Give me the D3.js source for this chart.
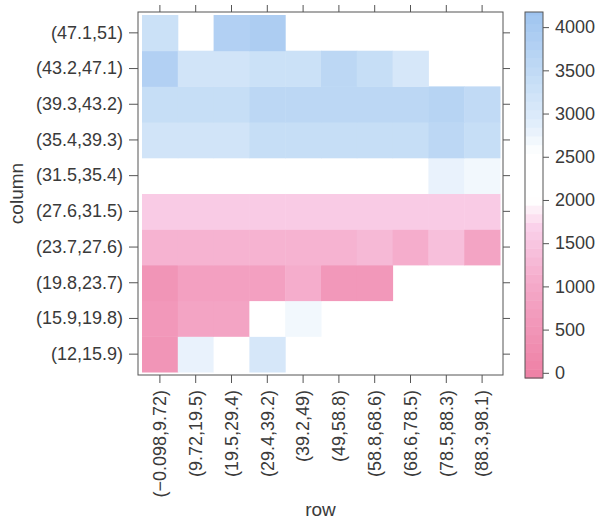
<!DOCTYPE html>
<html>
<head>
<meta charset="utf-8">
<script src="https://cdn.jsdelivr.net/npm/d3@7"></script>
<style>
  body { margin: 0; background: #fff; }
  text { font-family: "Liberation Sans", Arial, sans-serif; fill: #3a3a3a; }
</style>
</head>
<body>
<svg id="chart" width="600" height="521"></svg>
<script>
'use strict';

// x categories (row), left to right
var rowBins = ['(\u22120.098,9.72]', '(9.72,19.5]', '(19.5,29.4]', '(29.4,39.2]', '(39.2,49]',
  '(49,58.8]', '(58.8,68.6]', '(68.6,78.5]', '(78.5,88.3]', '(88.3,98.1]'];
// y categories (column), bottom to top
var columnBins = ['(12,15.9]', '(15.9,19.8]', '(19.8,23.7]', '(23.7,27.6]', '(27.6,31.5]',
  '(31.5,35.4]', '(35.4,39.3]', '(39.3,43.2]', '(43.2,47.1]', '(47.1,51]'];
var rowLabels = ['(\u22120.098,9.72)', '(9.72,19.5)', '(19.5,29.4)', '(29.4,39.2)', '(39.2,49)',
  '(49,58.8)', '(58.8,68.6)', '(68.6,78.5)', '(78.5,88.3)', '(88.3,98.1)'];
var columnLabels = ['(12,15.9)', '(15.9,19.8)', '(19.8,23.7)', '(23.7,27.6)', '(27.6,31.5)',
  '(31.5,35.4)', '(35.4,39.3)', '(39.3,43.2)', '(43.2,47.1)', '(47.1,51)'];

// cell values, one array per column bin (bottom to top), one value per row bin
var v12 = [450, 2750, 2350, 3100, null, null, null, null, null, null];
var v15 = [550, 850, 850, 2300, 2650, null, null, null, null, null];
var v19 = [500, 800, 800, 800, 1100, 600, 600, null, null, null];
var v23 = [1150, 1150, 1150, 1200, 1150, 1150, 1300, 1100, 1350, 900];
var v27 = [1600, 1600, 1600, 1600, 1600, 1600, 1600, 1600, 1600, 1600];
var v31 = [2300, 2300, 2300, 2300, 2300, 2300, 2300, 2300, 2750, 2700];
var v35 = [3150, 3150, 3150, 3350, 3350, 3350, 3350, 3350, 3550, 3350];
var v39 = [3350, 3350, 3350, 3550, 3550, 3550, 3550, 3550, 3650, 3500];
var v43 = [3800, 3150, 3150, 3250, 3250, 3550, 3400, 3100, null, null];
var v47 = [3300, null, 3800, 3900, null, null, null, null, null, null];
var values = [v12, v15, v19, v23, v27, v31, v35, v39, v43, v47];

var keyTicks = [0, 500, 1000, 1500, 2000, 2500, 3000, 3500, 4000];
var keyRange = [-60, 4175];

var svg = d3.select('#chart');

// panel frame and cell area
var frame = { left: 138, right: 503, top: 12, bottom: 375 };
var inset = 4;

var xScale = d3.scaleBand().domain(rowBins).range([frame.left + inset, frame.right - 3]);
var yScale = d3.scaleBand().domain(columnBins).range([frame.bottom - 3, frame.top + 3]);

//Colour: pink -> white -> blue, stepped like a levelplot
var colour = d3.scaleLinear()
  .domain([0, 1000, 1700, 2000, 2550, 2850, 3500, 4200])
  .range(['#ee82a6', '#f4a8c8', '#fad2ea', '#ffffff', '#ffffff', '#e3effb', '#c0daf5', '#9dc3ef'])
  .clamp(true);
var step = 100;
function stepped(v) {
  var k = Math.floor((v - keyRange[0]) / step);
  return colour(keyRange[0] + (k + 0.5) * step);
}

//Cells
var cells = [];
values.forEach(function (arr, j) {
  arr.forEach(function (v, i) {
    if (v !== null) cells.push({ x: rowBins[i], y: columnBins[j], v: v });
  });
});

svg.append('g').selectAll('rect').data(cells).enter().append('rect')
  .attr('x', function (d) { return xScale(d.x); })
  .attr('y', function (d) { return yScale(d.y); })
  .attr('width', xScale.bandwidth() + 0.5)
  .attr('height', yScale.bandwidth() + 0.5)
  .attr('fill', function (d) { return stepped(d.v); });

//Frame
svg.append('rect')
  .attr('x', frame.left).attr('y', frame.top)
  .attr('width', frame.right - frame.left).attr('height', frame.bottom - frame.top)
  .attr('fill', 'none').attr('stroke', '#555').attr('stroke-width', 1);

var fmtRow = function (d, i) { return rowLabels[i]; };
var fmtCol = function (d, i) { return columnLabels[i]; };

//Axes (ticks on all four sides, labels bottom and left)
var xAxis = svg.append('g').attr('transform', 'translate(0,' + frame.bottom + ')')
  .call(d3.axisBottom(xScale).tickSize(8).tickPadding(6).tickFormat(fmtRow));
xAxis.selectAll('text')
  .attr('transform', 'rotate(-90)')
  .attr('x', -15).attr('y', 0).attr('dy', '0.35em')
  .style('text-anchor', 'end');

var yAxis = svg.append('g').attr('transform', 'translate(' + frame.left + ',0)')
  .call(d3.axisLeft(yScale).tickSize(9).tickPadding(6).tickFormat(fmtCol));

svg.append('g').attr('transform', 'translate(0,' + frame.top + ')')
  .call(d3.axisTop(xScale).tickSize(7).tickFormat(''));
svg.append('g').attr('transform', 'translate(' + frame.right + ',0)')
  .call(d3.axisRight(yScale).tickSize(7).tickFormat(''));

svg.selectAll('.domain').remove();
svg.selectAll('.tick line').attr('stroke', '#555');
svg.selectAll('.tick text').style('font-size', '18px').attr('fill', '#3a3a3a');

//Axis labels
svg.append('text').attr('x', (frame.left + frame.right) / 2).attr('y', 516)
  .style('text-anchor', 'middle').style('font-size', '19px').text('row');
svg.append('text').attr('transform', 'rotate(-90)')
  .attr('x', -(frame.top + frame.bottom) / 2).attr('y', 23)
  .style('text-anchor', 'middle').style('font-size', '19px').text('column');

//Colour key
var key = { left: 525, right: 543, top: 12, bottom: 378 };
var keyScale = d3.scaleLinear().domain(keyRange).range([key.bottom, key.top]);
var levels = d3.range(keyRange[0], keyRange[1], step);

svg.append('g').selectAll('rect').data(levels).enter().append('rect')
  .attr('x', key.left)
  .attr('y', function (d) { return keyScale(Math.min(d + step, keyRange[1])); })
  .attr('width', key.right - key.left)
  .attr('height', function (d) { return keyScale(d) - keyScale(Math.min(d + step, keyRange[1])) + 0.5; })
  .attr('fill', function (d) { return stepped(d + step / 2); });

svg.append('rect')
  .attr('x', key.left).attr('y', key.top)
  .attr('width', key.right - key.left).attr('height', key.bottom - key.top)
  .attr('fill', 'none').attr('stroke', '#555');

var keyAxis = svg.append('g').attr('transform', 'translate(' + key.right + ',0)')
  .call(d3.axisRight(keyScale).tickValues(keyTicks).tickSize(6).tickPadding(6).tickFormat(d3.format('d')));
keyAxis.select('.domain').remove();
keyAxis.selectAll('.tick line').attr('stroke', '#555');
keyAxis.selectAll('.tick text').style('font-size', '18px').attr('fill', '#3a3a3a');
</script>
</body>
</html>
